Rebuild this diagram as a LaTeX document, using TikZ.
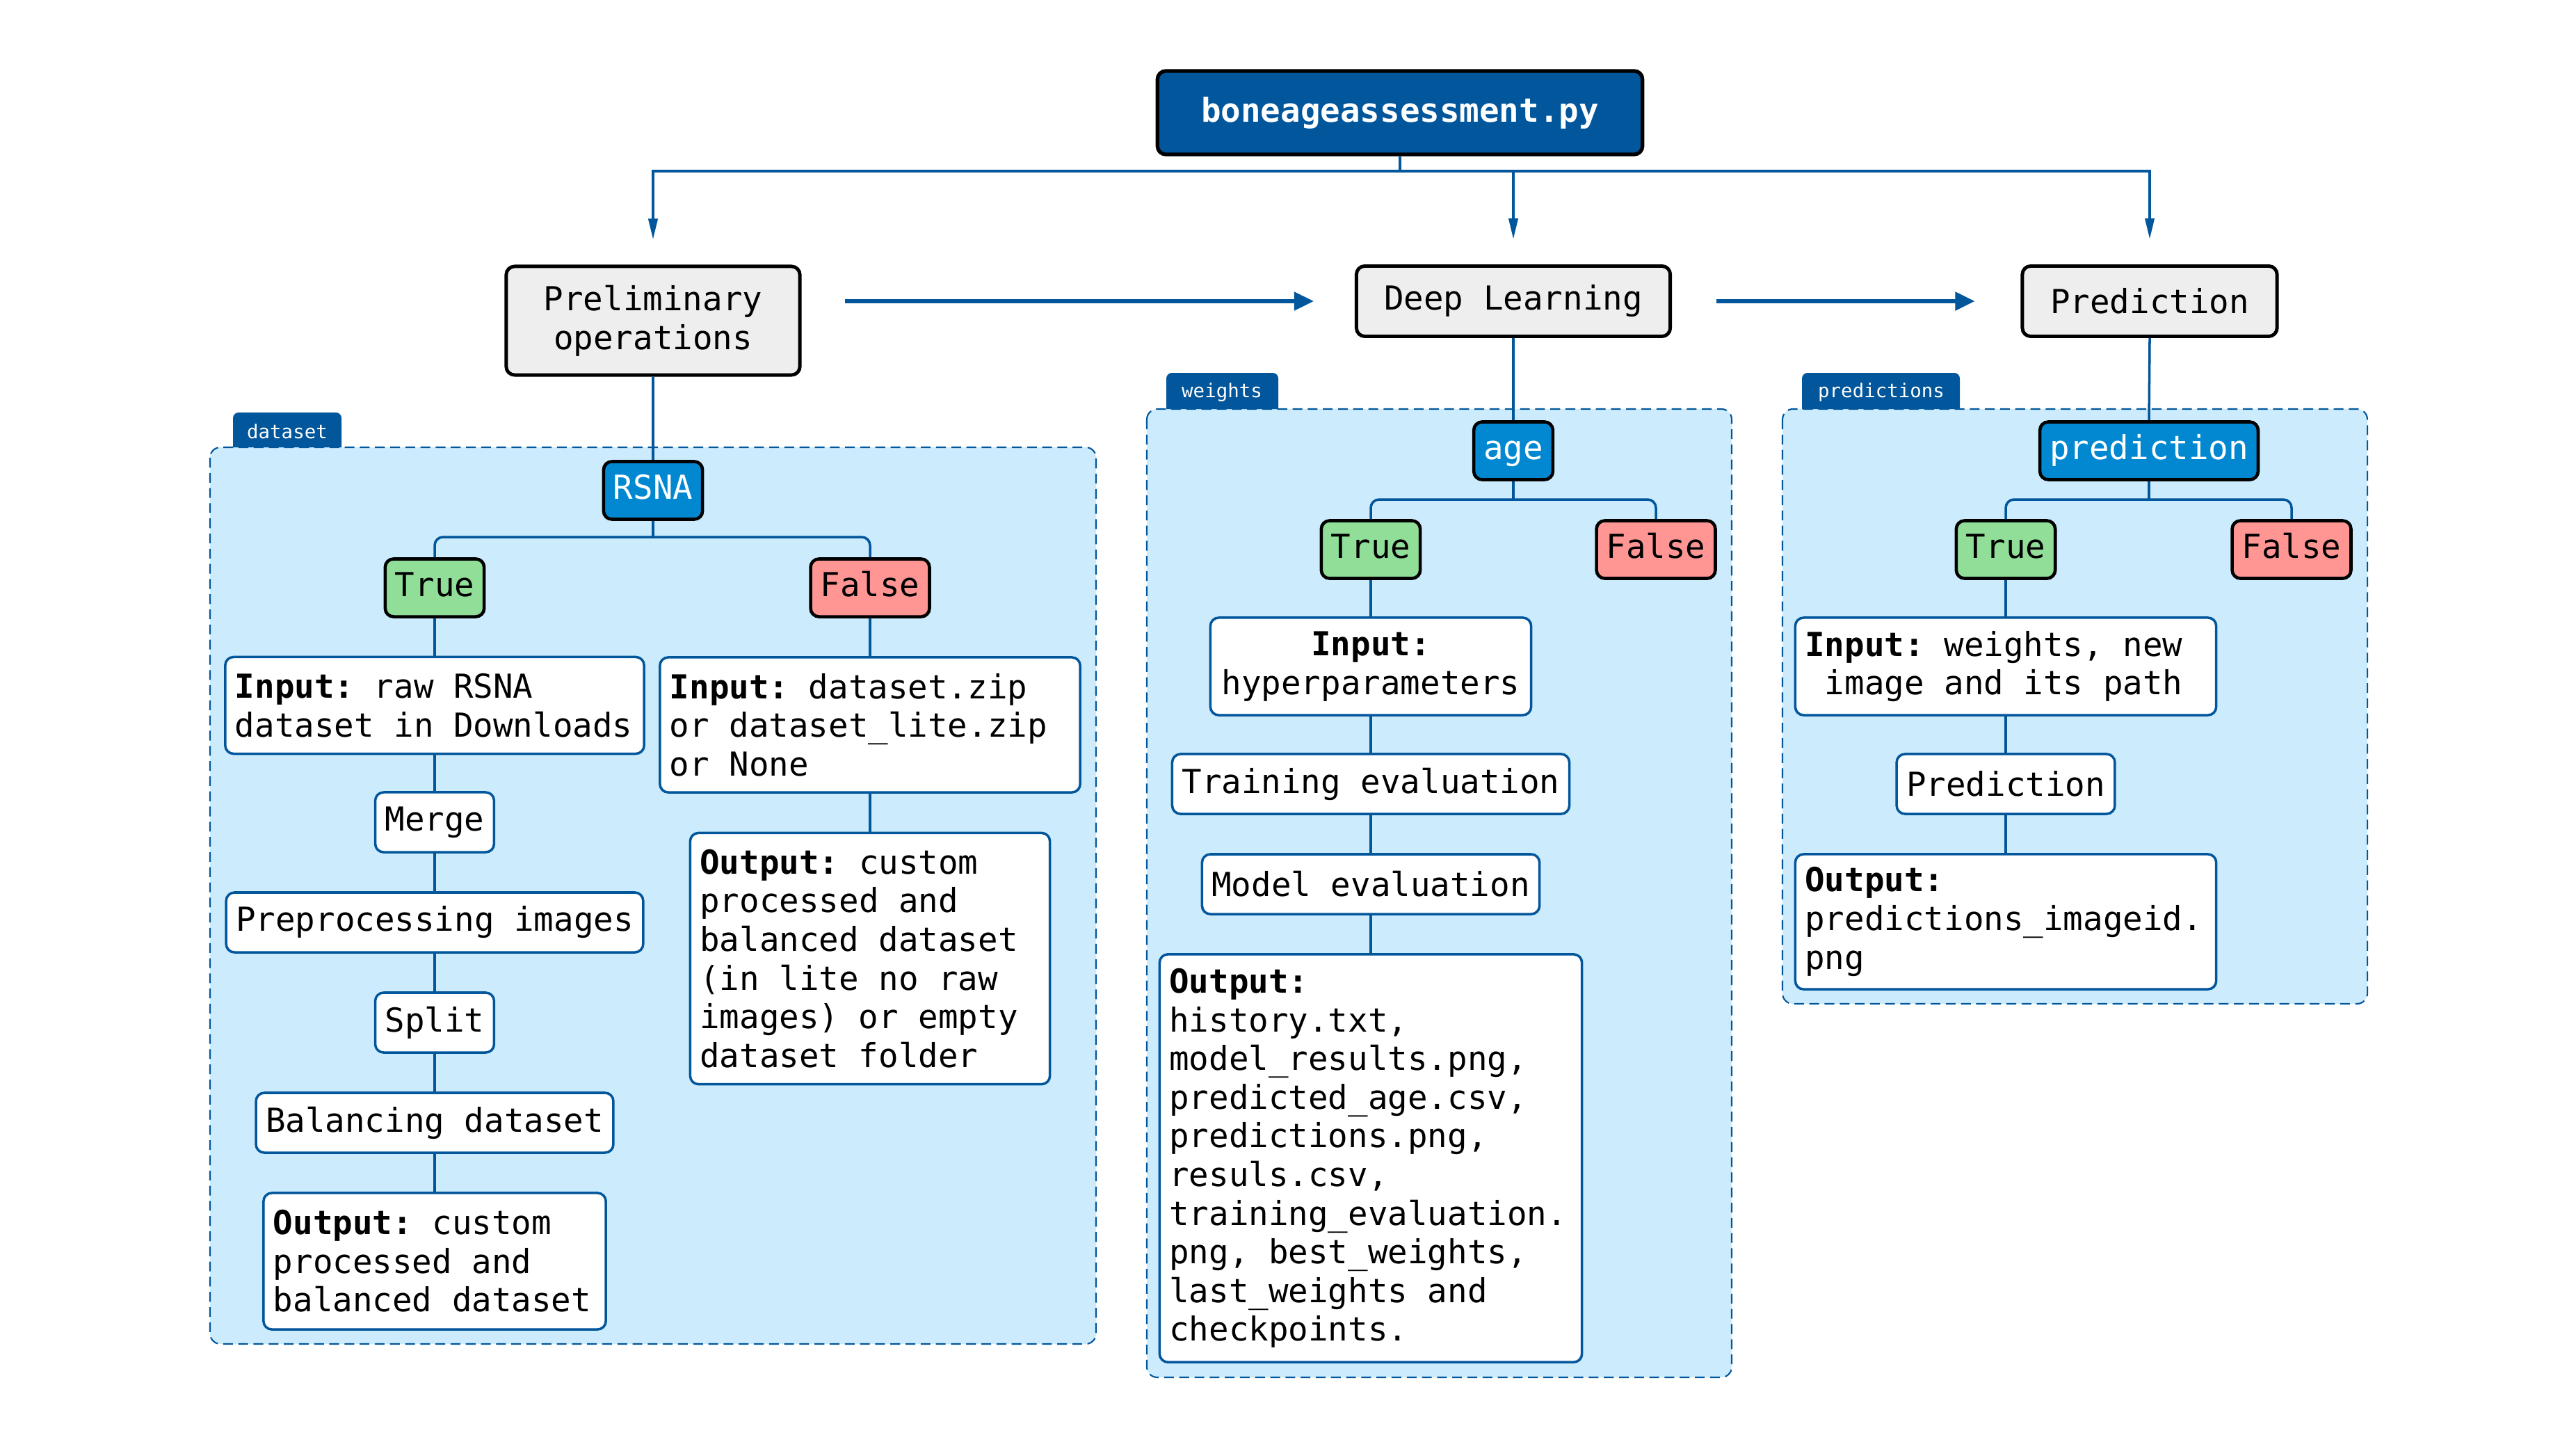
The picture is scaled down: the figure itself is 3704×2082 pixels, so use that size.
\documentclass[tikz,border=0pt]{standalone}
\usepackage{fontspec}
\setmainfont{DejaVu Sans Mono}
\usetikzlibrary{arrows.meta,calc}
\definecolor{dblue}{RGB}{2,86,155}
\definecolor{mblue}{RGB}{2,136,209}
\definecolor{lbg}{RGB}{204,236,253}
\definecolor{tgreen}{RGB}{144,222,152}
\definecolor{fred}{RGB}{255,150,148}
\definecolor{lgrey}{RGB}{238,238,238}
\begin{document}
\begin{tikzpicture}[x=0.01cm,y=-0.01cm,
  every node/.style={font=\fontsize{13.5}{15.8}\selectfont, inner sep=0.14cm},
  titlebox/.style={draw=black, line width=1.5pt, rounded corners=0.12cm, fill=dblue, text=white, font=\fontsize{13.5}{15.8}\selectfont\bfseries, minimum width=6.97cm, minimum height=1.2cm},
  topbox/.style={draw=black, line width=1.4pt, rounded corners=0.12cm, fill=lgrey, align=center},
  keybox/.style={draw=black, line width=1.3pt, rounded corners=0.12cm, fill=mblue, text=white, minimum height=0.83cm, text height=9.8pt, text depth=2.9pt},
  truebox/.style={draw=black, line width=1.3pt, rounded corners=0.12cm, fill=tgreen, minimum height=0.83cm, text height=9.8pt, text depth=2.9pt},
  falsebox/.style={draw=black, line width=1.3pt, rounded corners=0.12cm, fill=fred, minimum height=0.83cm, text height=9.8pt, text depth=2.9pt},
  stepbox/.style={draw=dblue, line width=1pt, rounded corners=0.12cm, fill=white, minimum height=0.86cm},
  textbox/.style={stepbox, align=flush left, execute at begin node={\spaceskip=8.127pt\xspaceskip=8.127pt\relax}},
  conn/.style={draw=dblue, line width=1pt},
  downarrow/.style={draw=dblue, line width=1.1pt, -{Triangle[length=0.3cm,width=0.13cm]}, shorten >=0.36cm},
  flowarrow/.style={draw=dblue, line width=1.5pt, -{Triangle[length=0.28cm,width=0.26cm]}},
  container/.style={draw=dblue, dashed, dash pattern=on 4pt off 2.2pt, line width=0.6pt, fill=lbg, rounded corners=0.15cm},
  tabfill/.style={fill=dblue},
  tablabel/.style={text=white, font=\fontsize{7.8}{9}\selectfont, inner sep=0pt}
]
\path[use as bounding box] (0,0) rectangle (3704,2082);

% containers
\draw[container] (302,643) rectangle (1576,1932);
\fill[tabfill] (335,643) [rounded corners=0.08cm] -- (335,593) -- (491,593) [sharp corners] -- (491,643) -- cycle;
\node[tablabel] (tabA) at (413,620) {dataset};

\draw[container] (1649,588) rectangle (2490,1980);
\fill[tabfill] (1677,588) [rounded corners=0.08cm] -- (1677,536) -- (1838,536) [sharp corners] -- (1838,588) -- cycle;
\node[tablabel] (tabB) at (1757,564) {weights};

\draw[container] (2563,588) rectangle (3404,1443);
\fill[tabfill] (2591,588) [rounded corners=0.08cm] -- (2591,536) -- (2818,536) [sharp corners] -- (2818,588) -- cycle;
\node[tablabel] (tabC) at (2705,564) {predictions};

% top
\node[titlebox] (top) at (2013,162) {boneageassessment.py};
\node[topbox, minimum width=4.22cm, minimum height=1.56cm] (prelim) at (939,461) {Preliminary\\operations};
\node[topbox, minimum width=4.51cm, minimum height=1.01cm] (deep) at (2176,433) {Deep Learning};
\node[topbox, minimum width=3.66cm, minimum height=1.01cm] (pred) at (3091,433) {Prediction};

% dataset column
\node[keybox] (rsna) at (939,705) {RSNA};
\node[truebox] (t1) at (625,845) {True};
\node[falsebox] (f1) at (1251,845) {False};
\node[textbox, text width=5.74cm, minimum height=1.39cm] (in1) at (625,1014) {\textbf{Input:} raw RSNA\\dataset in Downloads};
\node[stepbox] (merge) at (625,1182) {Merge};
\node[stepbox] (prep) at (625,1326) {Preprocessing images};
\node[stepbox] (split) at (625,1470) {Split};
\node[stepbox] (bal) at (625,1614) {Balancing dataset};
\node[textbox, text width=4.64cm, minimum height=1.96cm] (out1) at (625,1813) {\textbf{Output:} custom\\processed and\\balanced dataset};
\node[textbox, text width=5.76cm, minimum height=1.94cm] (in2) at (1251,1042) {\textbf{Input:} dataset.zip\\or dataset\_lite.zip\\or None};
\node[textbox, text width=4.89cm, minimum height=3.61cm] (out2) at (1251,1378) {\textbf{Output:} custom\\processed and\\balanced dataset\\(in lite no raw\\images) or empty\\dataset folder};

% deep learning column
\node[keybox] (age) at (2176,648) {age};
\node[truebox] (t2) at (1971,790) {True};
\node[falsebox] (f2) at (2381,790) {False};
\node[stepbox, align=center, minimum width=4.61cm, minimum height=1.40cm] (in3) at (1971,958) {\textbf{Input:}\\hyperparameters};
\node[stepbox] (train) at (1971,1127) {Training evaluation};
\node[stepbox, minimum width=4.78cm] (model) at (1971,1271) {Model evaluation};
\node[textbox, text width=5.79cm, minimum height=5.86cm] (out3) at (1971,1665) {\textbf{Output:}\\history.txt,\\model\_results.png,\\predicted\_age.csv,\\predictions.png,\\resuls.csv,\\training\_evaluation.\\png, best\_weights,\\last\_weights and\\checkpoints.};

% prediction column
\node[keybox] (prd) at (3090,648) {prediction};
\node[truebox] (t3) at (2884,790) {True};
\node[falsebox] (f3) at (3295,790) {False};
\node[textbox, text width=5.77cm, minimum height=1.40cm] (in4) at (2884,958) {\textbf{Input:} weights, new\\\phantom{x}image and its path};
\node[stepbox] (predbox) at (2884,1127) {Prediction};
\node[textbox, text width=5.77cm, minimum height=1.94cm] (out4) at (2884,1325) {\textbf{Output:}\\predictions\_imageid.\\png};

% top connectors
\coordinate (j0) at (2013,246);
\draw[conn, line width=1.1pt] (top.south) -- (j0);
\draw[downarrow] (j0) -| (prelim.north);
\draw[downarrow] (j0) -| (deep.north);
\draw[downarrow] (j0) -| (pred.north);

% flow arrows
\draw[flowarrow, shorten <=0.62cm, shorten >=0.59cm] (prelim.east |- deep.west) -- (deep.west);
\draw[flowarrow, shorten <=0.64cm, shorten >=0.66cm] (deep.east) -- (pred.west);

% dataset connectors
\draw[conn] (prelim.south) -- (rsna.north);
\coordinate (b1) at (939,772);
\draw[conn] (rsna.south) -- (b1);
\draw[conn, rounded corners=0.12cm] (b1) -| (t1.north);
\draw[conn, rounded corners=0.12cm] (b1) -| (f1.north);
\draw[conn] (t1.south) -- (in1.north);
\draw[conn] (in1.south) -- (merge.north);
\draw[conn] (merge.south) -- (prep.north);
\draw[conn] (prep.south) -- (split.north);
\draw[conn] (split.south) -- (bal.north);
\draw[conn] (bal.south) -- (out1.north);
\draw[conn] (f1.south) -- (in2.north);
\draw[conn] (in2.south) -- (out2.north);

% deep connectors
\draw[conn] (deep.south) -- (age.north);
\coordinate (b2) at (2176,718);
\draw[conn] (age.south) -- (b2);
\draw[conn, rounded corners=0.12cm] (b2) -| (t2.north);
\draw[conn, rounded corners=0.12cm] (b2) -| (f2.north);
\draw[conn] (t2.south) -- (in3.north);
\draw[conn] (in3.south) -- (train.north);
\draw[conn] (train.south) -- (model.north);
\draw[conn] (model.south) -- (out3.north);

% prediction connectors
\draw[conn] (pred.south) -- (prd.north);
\coordinate (b3) at (3090,718);
\draw[conn] (prd.south) -- (b3);
\draw[conn, rounded corners=0.12cm] (b3) -| (t3.north);
\draw[conn, rounded corners=0.12cm] (b3) -| (f3.north);
\draw[conn] (t3.south) -- (in4.north);
\draw[conn] (in4.south) -- (predbox.north);
\draw[conn] (predbox.south) -- (out4.north);
\end{tikzpicture}
\end{document}
